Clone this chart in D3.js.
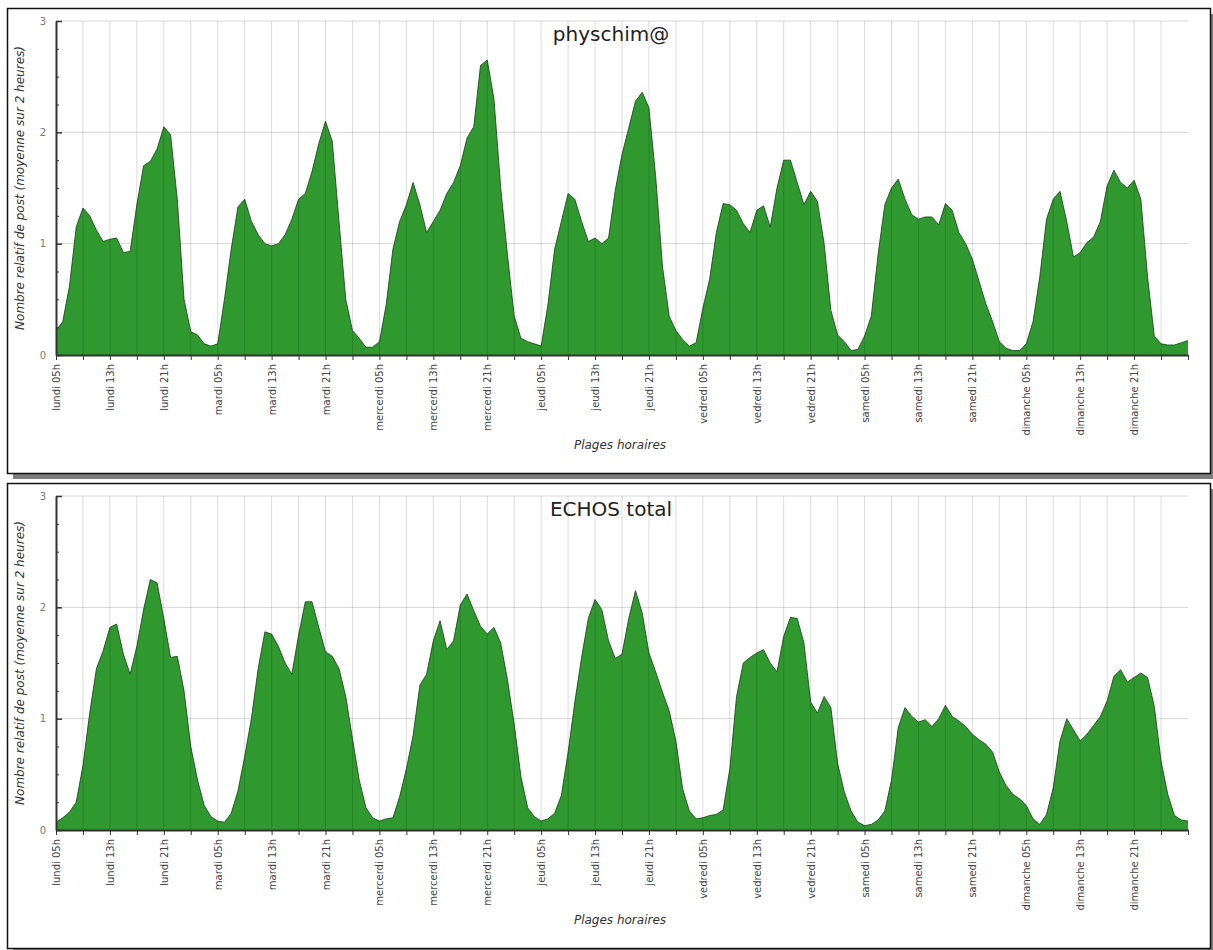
<!DOCTYPE html>
<html lang="fr">

<head>
    <meta charset="UTF-8">
    <title>Plages horaires</title>
    <script src="https://d3js.org/d3.v7.min.js"></script>
</head>

<style>
    body {
        margin: 0;
        background: #fff;
    }

    .tick text {
        font-family: "DejaVu Sans", sans-serif;
    }
</style>

<body>
    <svg class="chart"></svg>

    <script>
        const svgW = 1213;
        const svgH = 950;

        // étiquettes de l'axe des x (toutes les 8 heures, depuis lundi 05h)
        const tickLabels = [
            "lundi 05h", "lundi 13h", "lundi 21h",
            "mardi 05h", "mardi 13h", "mardi 21h",
            "mercerdi 05h", "mercerdi 13h", "mercerdi 21h",
            "jeudi 05h", "jeudi 13h", "jeudi 21h",
            "vedredi 05h", "vedredi 13h", "vedredi 21h",
            "samedi 05h", "samedi 13h", "samedi 21h",
            "dimanche 05h", "dimanche 13h", "dimanche 21h"
        ];

        // valeurs horaires (heure 0 = lundi 05h ... heure 168)
        const physchimValues = [
            0.22, 0.30, 0.62, 1.15, 1.32, 1.25, 1.12, 1.02, 1.04, 1.05, 0.92, 0.93, 1.35, 1.70, 1.74, 1.85,
            2.05, 1.98, 1.40, 0.50, 0.21, 0.18, 0.10, 0.08, 0.10,
            0.50, 0.95, 1.33, 1.40, 1.20, 1.08, 1.00, 0.98, 1.00, 1.08, 1.22, 1.40, 1.45, 1.65, 1.90,
            2.10, 1.92, 1.20, 0.50, 0.22, 0.15, 0.07, 0.07, 0.12,
            0.45, 0.95, 1.20, 1.35, 1.55, 1.35, 1.10, 1.20, 1.30, 1.45, 1.55, 1.70, 1.95, 2.05, 2.60,
            2.65, 2.30, 1.50, 0.90, 0.35, 0.15, 0.12, 0.10, 0.08,
            0.45, 0.95, 1.20, 1.45, 1.40, 1.20, 1.02, 1.05, 1.00, 1.05, 1.48, 1.80, 2.04, 2.28, 2.36,
            2.22, 1.60, 0.80, 0.35, 0.22, 0.14, 0.08, 0.11,
            0.42, 0.68, 1.10, 1.36, 1.35, 1.30, 1.18, 1.10, 1.30, 1.34, 1.15, 1.50, 1.75, 1.75, 1.55,
            1.35, 1.47, 1.38, 1.00, 0.40, 0.18, 0.12, 0.04, 0.05,
            0.17, 0.35, 0.90, 1.35, 1.50, 1.58, 1.40, 1.26, 1.22, 1.24, 1.24, 1.17, 1.36, 1.30, 1.10,
            1.00, 0.86, 0.66, 0.46, 0.30, 0.12, 0.06, 0.04, 0.04,
            0.10, 0.30, 0.70, 1.22, 1.40, 1.47, 1.20, 0.88, 0.92, 1.01, 1.06, 1.20, 1.52, 1.66, 1.55,
            1.50, 1.57, 1.40, 0.70, 0.17, 0.10, 0.09, 0.09, 0.11, 0.13
        ];

        const echosValues = [
            0.07, 0.11, 0.16, 0.25, 0.58, 1.05, 1.45, 1.61, 1.82, 1.85, 1.58, 1.40, 1.65, 1.98, 2.25,
            2.22, 1.90, 1.55, 1.56, 1.25, 0.75, 0.45, 0.22, 0.12, 0.08,
            0.07, 0.15, 0.35, 0.66, 1.00, 1.45, 1.78, 1.76, 1.65, 1.50, 1.40, 1.75, 2.05, 2.05, 1.82,
            1.60, 1.56, 1.45, 1.20, 0.82, 0.45, 0.20, 0.11, 0.08,
            0.10, 0.11, 0.30, 0.55, 0.85, 1.30, 1.40, 1.70, 1.88, 1.62, 1.70, 2.02, 2.12, 1.97, 1.83,
            1.76, 1.82, 1.68, 1.35, 0.95, 0.48, 0.20, 0.12, 0.08,
            0.10, 0.15, 0.31, 0.70, 1.15, 1.55, 1.90, 2.07, 1.98, 1.70, 1.54, 1.58, 1.90, 2.15, 1.95,
            1.59, 1.42, 1.24, 1.07, 0.80, 0.37, 0.17, 0.10, 0.11,
            0.13, 0.14, 0.18, 0.55, 1.20, 1.50, 1.55, 1.59, 1.62, 1.50, 1.42, 1.74, 1.91, 1.90, 1.68,
            1.15, 1.05, 1.20, 1.10, 0.60, 0.34, 0.17, 0.07, 0.04,
            0.05, 0.09, 0.17, 0.45, 0.92, 1.10, 1.02, 0.97, 0.99, 0.93, 1.00, 1.12, 1.02, 0.98, 0.93,
            0.86, 0.81, 0.77, 0.70, 0.52, 0.40, 0.32, 0.28, 0.22,
            0.10, 0.05, 0.14, 0.38, 0.80, 1.00, 0.90, 0.80, 0.86, 0.94, 1.02, 1.16, 1.38, 1.44, 1.33,
            1.37, 1.41, 1.37, 1.11, 0.62, 0.32, 0.13, 0.09, 0.08
        ];

        const panels = [
            { title: "physchim@", values: physchimValues, top: 8 },
            { title: "ECHOS total", values: echosValues, top: 483 }
        ];

        const svg = d3.select(".chart")
            .attr("width", svgW)
            .attr("height", svgH);

        const x = d3.scaleLinear().domain([0, 168]).range([56, 1188]);

        panels.forEach(p => {
            const g = svg.append("g").attr("transform", `translate(0,${p.top})`);

            // cadre + ombre
            g.append("rect")
                .attr("x", 13).attr("y", 6)
                .attr("width", 1203).attr("height", 465)
                .attr("fill", "#7d7d7d");
            g.append("rect")
                .attr("x", 7.5).attr("y", 0.5)
                .attr("width", 1203).attr("height", 465)
                .attr("fill", "#fff")
                .attr("stroke", "#111")
                .attr("stroke-width", 1.5);

            const y = d3.scaleLinear().domain([0, 3]).range([347, 13]);
            const pts = p.values.map((v, i) => [i, v]);

            // grille horizontale
            g.append("g").selectAll("line")
                .data([1, 2, 3])
                .join("line")
                .attr("x1", x(0)).attr("x2", x(168))
                .attr("y1", d => y(d)).attr("y2", d => y(d))
                .attr("stroke", "#d6d6d6");

            // aire
            const area = d3.area()
                .x(d => x(d[0]))
                .y0(y(0))
                .y1(d => y(d[1]));
            g.append("path")
                .datum(pts)
                .attr("d", area)
                .attr("fill", "#2f982f");
            g.append("path")
                .datum(pts)
                .attr("d", d3.line().x(d => x(d[0])).y(d => y(d[1])))
                .attr("fill", "none")
                .attr("stroke", "#173d17")
                .attr("stroke-width", 0.8);

            // grille verticale (toutes les 4 heures), par-dessus l'aire
            g.append("g").selectAll("line")
                .data(d3.range(4, 168, 4))
                .join("line")
                .attr("x1", d => x(d)).attr("x2", d => x(d))
                .attr("y1", y(3)).attr("y2", y(0))
                .attr("stroke", "#000")
                .attr("stroke-opacity", 0.14);

            // axe x
            const xAxis = g.append("g")
                .attr("transform", `translate(0,${y(0)})`)
                .call(d3.axisBottom(x)
                    .tickValues(d3.range(0, 169, 4))
                    .tickSize(5)
                    .tickSizeOuter(0)
                    .tickFormat(d => (d % 8 === 0 && d < 168) ? tickLabels[d / 8] : ""));
            xAxis.select(".domain").attr("stroke", "#333").attr("stroke-width", 2);
            xAxis.selectAll(".tick line").attr("stroke", "#333");
            xAxis.selectAll(".tick text")
                .attr("transform", "rotate(-90)")
                .attr("text-anchor", "end")
                .attr("x", -9)
                .attr("y", 0)
                .attr("dy", "0.35em")
                .attr("font-size", 10)
                .attr("fill", "#444");

            // axe y
            const yAxis = g.append("g")
                .attr("transform", `translate(${x(0)},0)`)
                .call(d3.axisLeft(y)
                    .tickValues([0, 1, 2, 3])
                    .tickSize(-6)
                    .tickSizeOuter(0)
                    .tickPadding(10)
                    .tickFormat(d3.format("d")));
            yAxis.select(".domain").attr("stroke", "#333").attr("stroke-width", 2);
            yAxis.selectAll(".tick line").attr("stroke", "#333").attr("stroke-width", 1.5);
            yAxis.selectAll(".tick text").attr("font-size", 10).attr("fill", "#777");

            g.append("g")
                .attr("transform", `translate(${x(0)},0)`)
                .call(d3.axisLeft(y)
                    .tickValues(d3.range(0.25, 3, 0.25).filter(d => d % 1 !== 0))
                    .tickSize(-3)
                    .tickSizeOuter(0)
                    .tickFormat(""))
                .call(a => a.select(".domain").remove())
                .selectAll(".tick line").attr("stroke", "#333");

            // titres
            g.append("text")
                .attr("x", 611).attr("y", 33)
                .attr("text-anchor", "middle")
                .attr("font-family", "DejaVu Sans, sans-serif")
                .attr("font-size", 20)
                .attr("fill", "#222")
                .text(p.title);

            g.append("text")
                .attr("x", 620).attr("y", 441)
                .attr("text-anchor", "middle")
                .attr("font-family", "DejaVu Sans, sans-serif")
                .attr("font-style", "italic")
                .attr("font-size", 12)
                .attr("fill", "#333")
                .text("Plages horaires");

            g.append("text")
                .attr("transform", `translate(24,${(y(0) + y(3)) / 2}) rotate(-90)`)
                .attr("text-anchor", "middle")
                .attr("font-family", "DejaVu Sans, sans-serif")
                .attr("font-style", "italic")
                .attr("font-size", 12)
                .attr("fill", "#333")
                .text("Nombre relatif de post (moyenne sur 2 heures)");
        });
    </script>
</body>

</html>
